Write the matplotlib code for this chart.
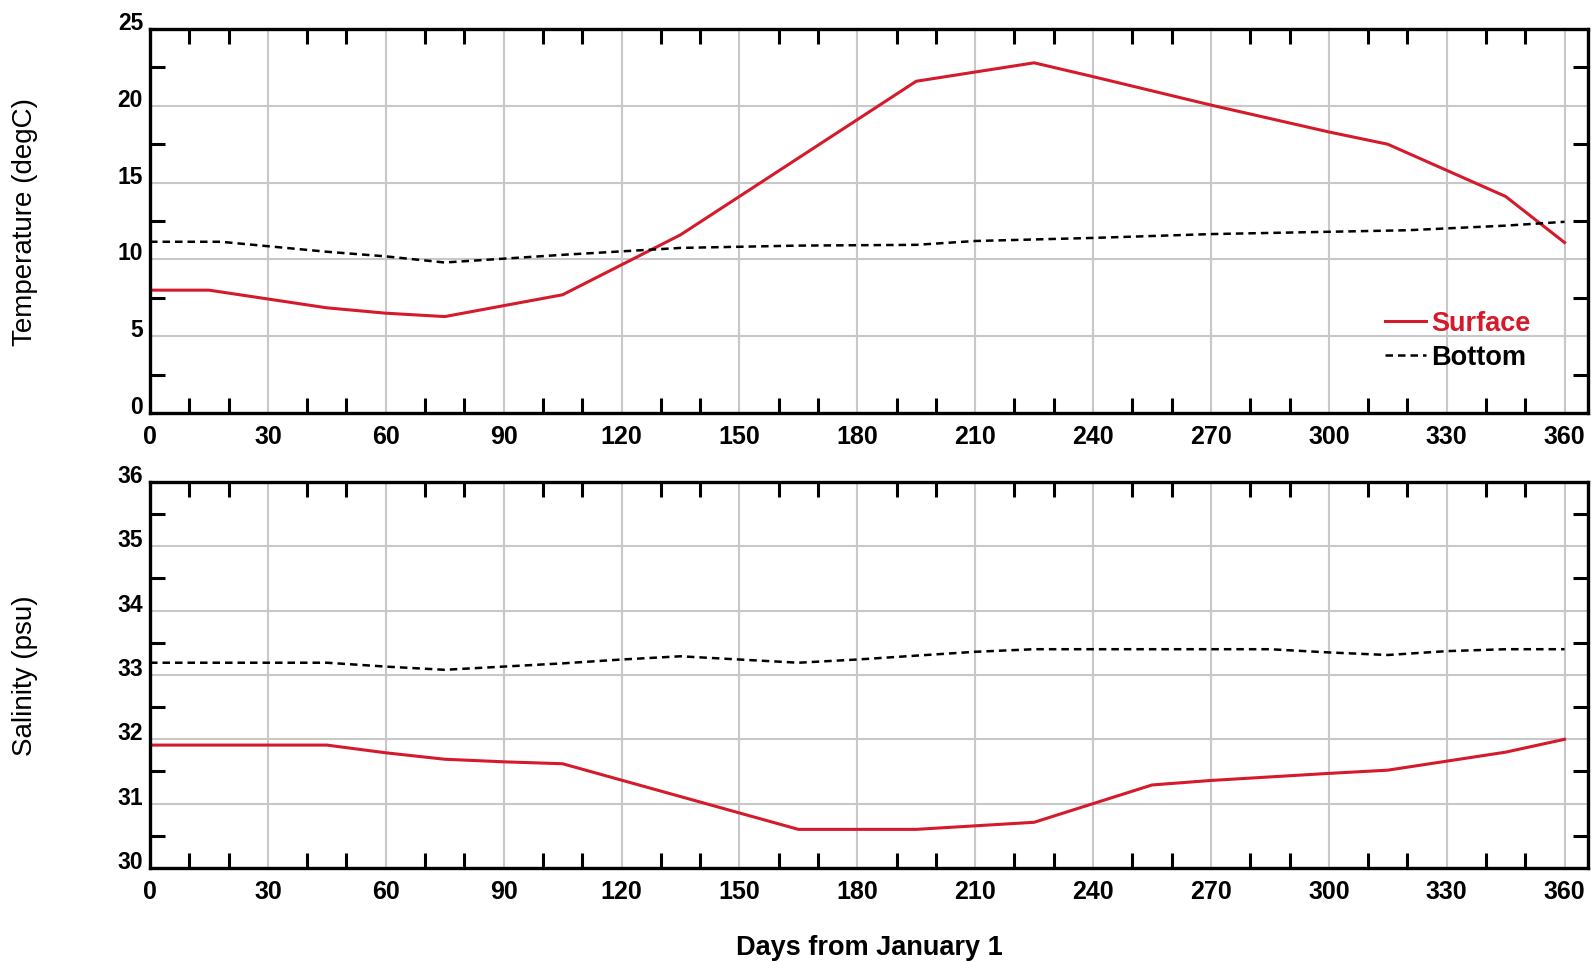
import matplotlib
matplotlib.use("Agg")
import matplotlib.pyplot as plt
from matplotlib.ticker import MultipleLocator

plt.rcParams['font.family'] = ['Liberation Sans', 'DejaVu Sans']

# temperature (degC)
temp_surf_days = [0, 15, 45, 60, 75, 105, 135, 195, 225, 240, 270, 300, 315, 345, 360]
temp_surf = [8.0, 8.0, 6.85, 6.5, 6.28, 7.7, 11.6, 21.6, 22.8, 21.9, 20.05, 18.3, 17.5, 14.1, 11.1]

temp_bot_days = [0, 18, 45, 60, 75, 90, 105, 135, 165, 195, 210, 225, 240, 270, 300, 320, 345, 360]
temp_bot = [11.15, 11.15, 10.5, 10.2, 9.8, 10.05, 10.3, 10.75, 10.9, 10.95, 11.2, 11.3, 11.4, 11.65, 11.8, 11.9, 12.2, 12.45]

# salinity (psu)
sal_surf_days = [0, 45, 60, 75, 90, 105, 165, 195, 225, 255, 270, 300, 315, 330, 345, 360]
sal_surf = [31.91, 31.91, 31.79, 31.69, 31.65, 31.62, 30.6, 30.6, 30.71, 31.29, 31.36, 31.47, 31.52, 31.66, 31.8, 32.0]

sal_bot_days = [0, 45, 60, 75, 90, 105, 120, 135, 150, 165, 180, 195, 210, 225, 285, 300, 315, 330, 345, 360]
sal_bot = [33.19, 33.19, 33.13, 33.08, 33.13, 33.18, 33.24, 33.29, 33.24, 33.19, 33.24, 33.3, 33.36, 33.4, 33.4, 33.35, 33.31, 33.37, 33.4, 33.4]

red = '#d41a2b'

fig = plt.figure(figsize=(15.91, 9.62), dpi=100)
ax1 = fig.add_axes([0.0943, 0.5696, 0.9039, 0.3992])
ax2 = fig.add_axes([0.0943, 0.0967, 0.9039, 0.4013])


def style_axes(ax, ylim, ymajor, yminor):
    ax.set_xlim(0, 366)
    ax.set_ylim(*ylim)
    ax.xaxis.set_major_locator(MultipleLocator(30))
    ax.xaxis.set_minor_locator(MultipleLocator(10))
    ax.yaxis.set_major_locator(MultipleLocator(ymajor))
    ax.yaxis.set_minor_locator(MultipleLocator(yminor))
    ax.grid(True, which='major', color='#c8c8c8', linewidth=1.5)
    ax.set_axisbelow(True)
    ax.tick_params(which='major', length=0)
    ax.tick_params(which='minor', direction='in', length=11, width=2.2,
                   top=True, right=True, bottom=True, left=True)
    ax.tick_params(axis='x', which='major', labelsize=18, pad=8)
    ax.tick_params(axis='y', which='major', labelsize=16.5, pad=5)
    for lab in ax.get_xticklabels() + ax.get_yticklabels():
        lab.set_fontweight('bold')
    for lab in ax.get_yticklabels():
        lab.set_verticalalignment('baseline')
    for sp in ax.spines.values():
        sp.set_linewidth(2.4)


ax1.plot(temp_surf_days, temp_surf, color=red, linewidth=2.2, label='Surface')
ax1.plot(temp_bot_days, temp_bot, color='black', linewidth=1.8, linestyle=(0, (3, 2)), label='Bottom')
style_axes(ax1, (0, 25), 5, 2.5)
ax1.set_ylabel('Temperature (degC)', fontsize=20)
ax1.yaxis.set_label_coords(-0.078, 0.5)
leg = ax1.legend(loc='lower right', bbox_to_anchor=(0.977, 0.048), frameon=False,
                 handlelength=1.5, handletextpad=0.2, labelspacing=0.3,
                 prop={'weight': 'bold', 'size': 19.5})
leg.get_texts()[0].set_color(red)

ax2.plot(sal_surf_days, sal_surf, color=red, linewidth=2.2)
ax2.plot(sal_bot_days, sal_bot, color='black', linewidth=1.8, linestyle=(0, (3, 2)))
style_axes(ax2, (30, 36), 1, 0.5)
ax2.set_ylabel('Salinity (psu)', fontsize=20)
ax2.yaxis.set_label_coords(-0.078, 0.5)
ax2.set_xlabel('Days from January 1', fontsize=19.5, fontweight='bold', labelpad=22)

fig.savefig('out.png', dpi=100)
